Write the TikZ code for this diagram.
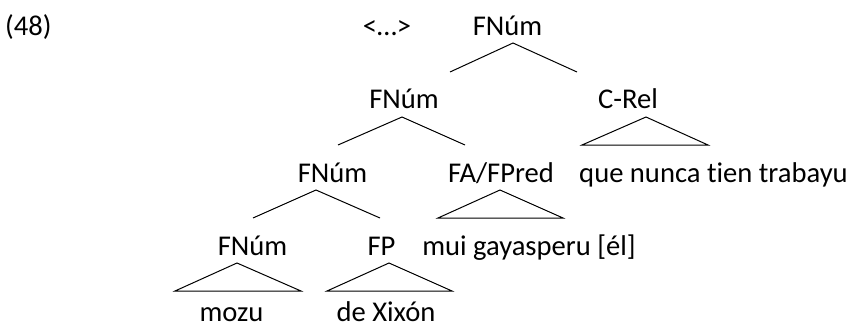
\documentclass[tikz,border=0pt]{standalone}
\usepackage{fontspec}
\setmainfont{Carlito}[Ligatures=NoCommon]
\begin{document}
\begin{tikzpicture}[x=1pt,y=-1pt,
  lbl/.style={anchor=base,inner sep=0pt,font=\fontsize{28.6}{34}\selectfont},
  edge/.style={line width=1pt,line join=miter},
  tri/.style={line width=1pt,line join=miter}]
\useasboundingbox (0,0) rectangle (851,327);
% row 1
\node[lbl,anchor=base west] (ex) at (5,35) {(48)};
\node[lbl] (dots) at (387,35) {<…>};
\node[lbl] (n1) at (507.5,35) {FNúm};
% row 2
\node[lbl] (n2) at (404,108) {FNúm};
\node[lbl] (crel) at (628,108) {C-Rel};
% row 3
\node[lbl] (n3) at (332.5,182) {FNúm};
\node[lbl] (fa) at (501,182) {FA/FPred};
\node[lbl] (que) at (713.5,182) {que nunca tien trabayu};
% row 4
\node[lbl] (n4) at (252.5,255) {FNúm};
\node[lbl] (fp) at (381.5,255) {FP};
\node[lbl] (mui) at (529,255) {mui gayasperu [él]};
% row 5
\node[lbl] (mozu) at (231.5,321) {mozu};
\node[lbl] (xix) at (386,321) {de Xixón};
% coordinates
\coordinate (a1) at (513,43);
\coordinate (l1) at (450,72);
\coordinate (r1) at (577,72);
\coordinate (a2) at (402,117);
\coordinate (l2) at (338,145);
\coordinate (r2) at (465,145);
\coordinate (a3) at (316,190);
\coordinate (l3) at (253,218);
\coordinate (r3) at (380,218);
\coordinate (tc) at (646,117);
\coordinate (tcl) at (582,145);
\coordinate (tcr) at (708,145);
\coordinate (tf) at (500,190);
\coordinate (tfl) at (438,218);
\coordinate (tfr) at (563,218);
\coordinate (tn) at (237,263);
\coordinate (tnl) at (175,291);
\coordinate (tnr) at (301,291);
\coordinate (tp) at (389,263);
\coordinate (tpl) at (327,291);
\coordinate (tpr) at (452,291);
% branches
\draw[edge] (l1) -- (a1) -- (r1);
\draw[edge] (l2) -- (a2) -- (r2);
\draw[edge] (l3) -- (a3) -- (r3);
% triangles
\draw[tri] (tc) -- (tcl) -- (tcr) -- cycle;
\draw[tri] (tf) -- (tfl) -- (tfr) -- cycle;
\draw[tri] (tn) -- (tnl) -- (tnr) -- cycle;
\draw[tri] (tp) -- (tpl) -- (tpr) -- cycle;
\end{tikzpicture}
\end{document}
